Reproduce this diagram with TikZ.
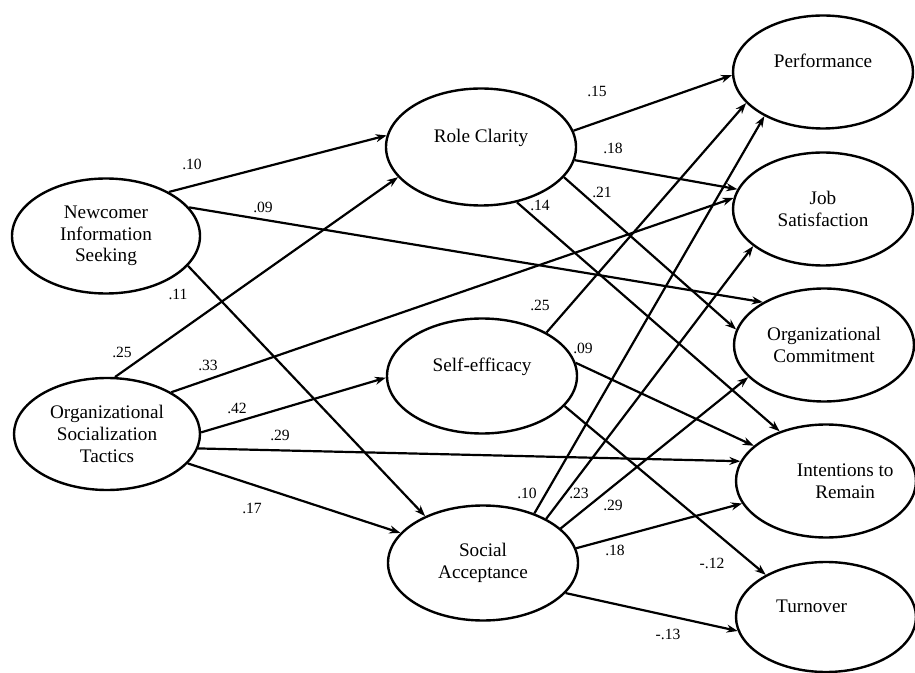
\documentclass[tikz,border=0pt]{standalone}
\usepackage{fontspec}
\setmainfont{Liberation Serif}
\usetikzlibrary{arrows.meta,shapes,positioning}

\begin{document}
\begin{tikzpicture}[x=0.5pt,y=-0.5pt,
  latent/.style={draw,ellipse,line width=1.2pt,inner sep=0pt,align=center,
    minimum width=95pt,minimum height=57.5pt,font=\fontsize{9.6}{10.8}\selectfont},
  outcome/.style={latent,minimum width=90pt,minimum height=56.5pt},
  path/.style={-{Stealth[length=5.5pt,width=4pt]},line width=1.1pt},
  coef/.style={font=\fontsize{7.8}{9}\selectfont,inner sep=0pt}]
\useasboundingbox (0,0) rectangle (915,673);

% predictors
\node[latent,minimum width=94pt] (nis) at (106,236) {Newcomer\\Information\\Seeking};
\node[latent,minimum width=93pt,minimum height=56pt] (ost) at (107,434) {Organizational\\Socialization\\Tactics};

% mediators
\node[latent,minimum height=58.5pt] (rc) at (481,147) {Role Clarity\\~};
\node[latent] (se) at (482,376) {Self-efficacy\\~};
\node[latent] (sa) at (483,563) {Social\\Acceptance};

% outcomes
\node[outcome] (perf) at (823,72) {Performance\\~};
\node[outcome] (js) at (823,209) {Job\\Satisfaction};
\node[outcome] (oc) at (824,345) {Organizational\\Commitment};
\node[outcome] (ir) at (826,481) {\hspace*{1em}Intentions to\hspace*{-1em}\\\hspace*{1em}Remain\hspace*{-1em}};
\node[outcome,minimum height=55pt] (to) at (826,617) {Turnover\hspace*{1.5em}\\~};

\draw[path] (nis.35) -- (rc.173);
\draw[path] (nis.19) -- (oc.145);
\draw[path] (nis.-20) -- (sa.141);
\draw[path] (ost.82) -- (rc.200);
\draw[path] (ost.33) -- (js.173);
\draw[path] (ost.1) -- (se.181);
\draw[path] (ost.-9) -- (ir.167);
\draw[path] (ost.-20) -- (sa.160);

\draw[path] (rc.10) -- (perf.182);
\draw[path] (rc.-8) -- (js.167);
\draw[path] (rc.-20) -- (oc.170);
\draw[path] (rc.-57) -- (ir.133);

\draw[path] (se.34) -- (perf.202);
\draw[path] (se.8) -- (ir.154);
\draw[path] (se.-20) -- (to.145);

\draw[path] (sa.44) -- (perf.217);
\draw[path] (sa.35) -- (js.208);
\draw[path] (sa.24) -- (oc.203);
\draw[path] (sa.9) -- (ir.195);
\draw[path] (sa.-20) -- (to.189);

% coefficients
\node[coef] (c1) at (192,164) {.10};
\node[coef] (c2) at (263,207) {.09};
\node[coef] (c3) at (178,294) {.11};
\node[coef] (c4) at (122,352) {.25};
\node[coef] (c5) at (208,365) {.33};
\node[coef] (c6) at (237,408) {.42};
\node[coef] (c7) at (280,435) {.29};
\node[coef] (c8) at (252,508) {.17};
\node[coef] (c9) at (597,91) {.15};
\node[coef] (c10) at (613,148) {.18};
\node[coef] (c11) at (602,192) {.21};
\node[coef] (c12) at (540,205) {.14};
\node[coef] (c13) at (540,305) {.25};
\node[coef] (c14) at (583,348) {.09};
\node[coef] (c15) at (712,563) {-.12};
\node[coef] (c16) at (527,493) {.10};
\node[coef] (c17) at (579,493) {.23};
\node[coef] (c18) at (613,505) {.29};
\node[coef] (c19) at (615,550) {.18};
\node[coef] (c20) at (668,634) {-.13};
\end{tikzpicture}
\end{document}
